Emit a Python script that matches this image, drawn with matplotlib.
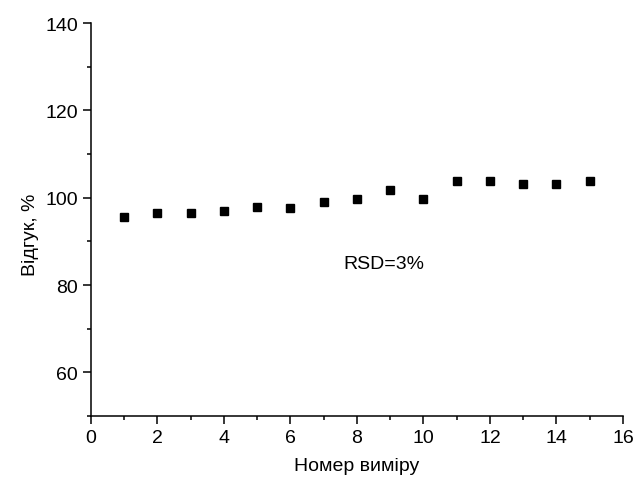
import matplotlib
matplotlib.use("Agg")
import matplotlib.pyplot as plt
from matplotlib.ticker import MultipleLocator

plt.rcParams["font.family"] = ["Liberation Sans", "DejaVu Sans"]

n_meas = [1, 2, 3, 4, 5, 6, 7, 8, 9, 10, 11, 12, 13, 14, 15]
resp = [95.6, 96.5, 96.5, 96.9, 97.9, 97.6, 98.9, 99.8, 101.8, 99.8,
        103.9, 103.9, 103.1, 103.1, 103.9]

fig = plt.figure(figsize=(6.35, 4.85), dpi=100)
ax = fig.add_axes([0.1433, 0.1402, 0.8378, 0.8103])

ax.plot(n_meas, resp, linestyle="none", marker="s", markersize=6.3,
        color="black")

ax.set_xlim(0, 16)
ax.set_ylim(50, 140)
ax.xaxis.set_major_locator(MultipleLocator(2))
ax.xaxis.set_minor_locator(MultipleLocator(1))
ax.yaxis.set_minor_locator(MultipleLocator(10))
ax.set_yticks([60, 80, 100, 120, 140])

for side in ("top", "right"):
    ax.spines[side].set_visible(False)
for side in ("left", "bottom"):
    ax.spines[side].set_linewidth(1.1)
ax.tick_params(which="major", direction="out", length=6, width=1.1,
               labelsize=14, pad=3.5)
ax.tick_params(which="minor", direction="out", length=3, width=1.1)

ax.set_xlabel("Номер виміру", fontsize=14, labelpad=8)
ax.set_ylabel("Відгук, %", fontsize=14, labelpad=4)
ax.yaxis.label.set_y(0.463)

ax.text(7.58, 84.9, "RSD=3%", fontsize=14, va="center", ha="left")

fig.savefig("out.png", dpi=100)
